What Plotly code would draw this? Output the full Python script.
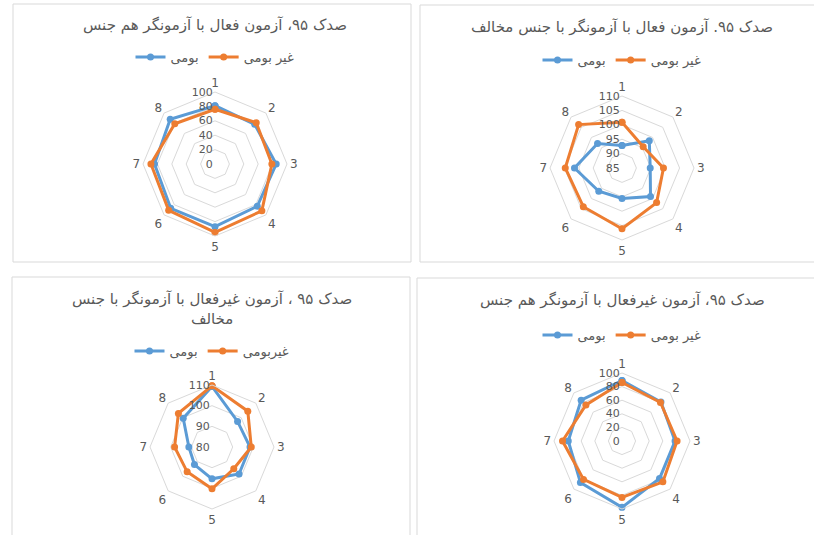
import plotly.graph_objects as go

W, H = 814, 535

categories = ["1", "2", "3", "4", "5", "6", "7", "8"]

series_names = ["بومی", "غیر بومی"]
series_names_p3 = ["بومی", "غیربومی"]

titles = [
    "صدک ۹۵، آزمون فعال با آزمونگر هم جنس",
    "صدک ۹۵. آزمون فعال با آزمونگر با جنس مخالف",
    "صدک ۹۵ ، آزمون غیرفعال با آزمونگر با جنس<br>مخالف",
    "صدک ۹۵، آزمون غیرفعال با آزمونگر هم جنس",
]

# Panel 1: active test, same-sex examiner
p1_native = [81, 78, 85, 83, 87, 87, 84, 88]
p1_nonnative = [76, 81, 79, 92, 95, 91, 89, 79]
# Panel 2: active test, opposite-sex examiner
p2_native = [92.8, 98.4, 94.8, 99, 95.6, 96.4, 101.5, 97]
p2_nonnative = [100.9, 95.4, 99.4, 102, 106.1, 104, 104.7, 106.3]
# Panel 3: passive test, opposite-sex examiner
p3_native = [109.3, 97.5, 98.4, 98.5, 95.4, 92, 91.2, 99.7]
p3_nonnative = [109.6, 104.5, 99, 94.9, 100.2, 97, 98.1, 103]
# Panel 4: passive test, same-sex examiner
p4_native = [89, 81, 78, 78, 97.6, 86.5, 79, 85]
p4_nonnative = [86, 80, 81, 85, 83, 80, 87.5, 75]

radial_ranges = [[0, 100], [85, 110], [80, 110], [0, 100]]
radial_dticks = [20, 5, 10, 20]

BLUE = "#5B9BD5"
ORANGE = "#ED7D31"
GRID = "#D9D9D9"
TXT = "#595959"
FONT = "DejaVu Sans"

# layout geometry (pixels)
centers = [(215, 164), (622, 168), (212, 447), (622, 441)]
radii = [72, 72, 62, 68]
title_y = [25, 27, 309, 300]
legend_y = [57, 60, 351, 335]
title_x = [215, 622, 212, 622]
boxes = [(13, 4, 411, 262), (420, 5, 820, 262), (12, 277, 410, 540), (417, 278, 820, 540)]

data = [
    (p1_native, p1_nonnative, series_names),
    (p2_native, p2_nonnative, series_names),
    (p3_native, p3_nonnative, series_names_p3),
    (p4_native, p4_nonnative, series_names),
]

fig = go.Figure()

layout = dict(
    width=W, height=H, margin=dict(l=0, r=0, t=0, b=0),
    paper_bgcolor="white", plot_bgcolor="white",
    font=dict(family=FONT, color=TXT),
    showlegend=True,
)

shapes = []
annotations = []

def closed(v):
    return list(v) + [v[0]]

for i, (nat, non, names) in enumerate(data):
    pid = "polar" if i == 0 else f"polar{i+1}"
    lid = "legend" if i == 0 else f"legend{i+1}"
    cats = closed(categories)
    fig.add_trace(go.Scatterpolar(
        r=closed(nat), theta=cats, name=names[0], subplot=pid, legend=lid,
        mode="lines+markers", line=dict(color=BLUE, width=3),
        marker=dict(size=7, color=BLUE),
    ))
    fig.add_trace(go.Scatterpolar(
        r=closed(non), theta=cats, name=names[1], subplot=pid, legend=lid,
        mode="lines+markers", line=dict(color=ORANGE, width=3),
        marker=dict(size=7, color=ORANGE),
    ))
    cx, cy = centers[i]
    R = radii[i]
    layout[pid] = dict(
        domain=dict(x=[(cx - R) / W, (cx + R) / W], y=[1 - (cy + R) / H, 1 - (cy - R) / H]),
        bgcolor="white",
        gridshape="linear",
        radialaxis=dict(
            range=radial_ranges[i], dtick=radial_dticks[i], angle=90, tickangle=90,
            side="counterclockwise",
            showline=False, ticks="", gridcolor=GRID, gridwidth=1,
            tickfont=dict(size=11, color=TXT, family=FONT),
        ),
        angularaxis=dict(
            type="category", categoryarray=categories, direction="clockwise",
            rotation=90, showgrid=False, showline=True, linecolor=GRID, linewidth=1,
            ticks="", tickfont=dict(size=12, color=TXT, family=FONT),
        ),
    )
    layout[lid] = dict(
        orientation="h", x=title_x[i] / W, xanchor="center",
        y=1 - legend_y[i] / H, yanchor="middle",
        font=dict(size=13, color=TXT, family=FONT), bgcolor="rgba(0,0,0,0)",
        tracegroupgap=0,
    )
    annotations.append(dict(
        text=titles[i], x=title_x[i] / W, y=1 - title_y[i] / H, xref="paper", yref="paper",
        showarrow=False, xanchor="center", yanchor="middle",
        font=dict(size=15, color=TXT, family=FONT),
    ))
    x0, y0, x1, y1 = boxes[i]
    shapes.append(dict(type="rect", xref="paper", yref="paper",
                       x0=x0 / W, x1=x1 / W, y0=1 - y1 / H, y1=1 - y0 / H,
                       line=dict(color=GRID, width=1), fillcolor="rgba(0,0,0,0)", layer="below"))

layout["shapes"] = shapes
layout["annotations"] = annotations
fig.update_layout(**layout)

fig.write_html("out.html", config={"displayModeBar": False},
               post_script="document.body.style.margin='0';")
